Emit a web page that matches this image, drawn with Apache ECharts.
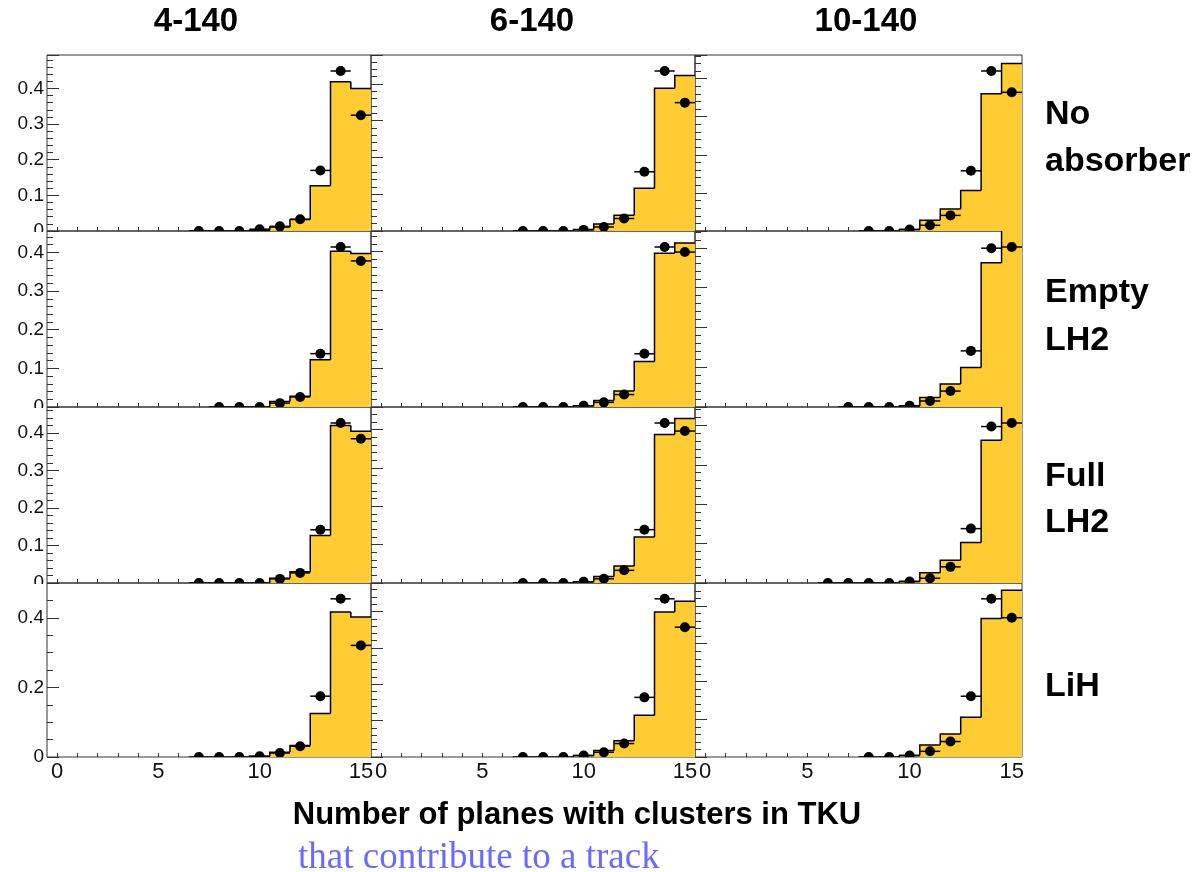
<!DOCTYPE html>
<html><head><meta charset="utf-8">
<script src="https://cdn.jsdelivr.net/npm/echarts@6/dist/echarts.min.js"></script>
<style>html,body{margin:0;padding:0;background:#fff}#c{width:1198px;height:872px}</style>
</head><body><div id="c"></div>
<script>
// ---------------- data ----------------
const bins = [0,1,2,3,4,5,6,7,8,9,10,11,12,13,14,15];
const columnTitles = ['4-140', '6-140', '10-140'];
const rowLabels = [['No', 'absorber'], ['Empty', 'LH2'], ['Full', 'LH2'], ['LiH']];
const xTickLabels = [0, 5, 10, 15];
const xTickMarks = bins;
const xTitle = 'Number of planes with clusters in TKU';
const xSubTitle = 'that contribute to a track';

// data points (null = no point), index = number of planes
const ptsNoAbs4  = [null,null,null,null,null,null,null,0,0,0,0.005,0.013,0.033,0.170,0.449,0.325];
const ptsNoAbs6  = [null,null,null,null,null,null,null,0,0,0,0.003,0.011,0.034,0.161,0.435,0.349];
const ptsNoAbs10 = [null,null,null,null,null,null,null,null,0,0,0.004,0.015,0.041,0.158,0.420,0.364];
const ptsEmpty4  = [null,null,null,null,null,null,null,null,0,0,0,0.010,0.026,0.138,0.414,0.378];
const ptsEmpty6  = [null,null,null,null,null,null,null,0,0,0,0.003,0.012,0.032,0.137,0.412,0.399];
const ptsEmpty10 = [null,null,null,null,null,null,null,0,0,0,0.003,0.015,0.040,0.141,0.399,0.402];
const ptsFull4   = [null,null,null,null,null,null,null,0,0,0,0,0.011,0.027,0.142,0.427,0.385];
const ptsFull6   = [null,null,null,null,null,null,null,0,0,0,0.003,0.011,0.033,0.139,0.417,0.396];
const ptsFull10  = [null,null,null,null,null,null,0,0,0,0,0.004,0.012,0.041,0.138,0.397,0.406];
const ptsLiH4    = [null,null,null,null,null,null,null,0,0,0,0.002,0.0115,0.031,0.175,0.455,0.321];
const ptsLiH6    = [null,null,null,null,null,null,null,0,0,0,0.004,0.013,0.037,0.164,0.435,0.357];
const ptsLiH10   = [null,null,null,null,null,null,null,null,0,0,0.004,0.015,0.041,0.161,0.419,0.369];

// simulation histograms, index = number of planes
const simNoAbs4  = [0,0,0,0,0,0,0,0,0,0,0.002,0.011,0.032,0.127,0.419,0.400];
const simNoAbs6  = [0,0,0,0,0,0,0,0,0,0,0.004,0.019,0.043,0.116,0.388,0.423];
const simNoAbs10 = [0,0,0,0,0,0,0,0,0,0,0.004,0.028,0.058,0.106,0.360,0.440];
const simEmpty4  = [0,0,0,0,0,0,0,0,0,0,0,0.014,0.028,0.122,0.403,0.397];
const simEmpty6  = [0,0,0,0,0,0,0,0,0,0,0.003,0.017,0.041,0.117,0.396,0.422];
const simEmpty10 = [0,0,0,0,0,0,0,0,0,0,0.0025,0.024,0.0575,0.099,0.3625,0.460];
const simFull4   = [0,0,0,0,0,0,0,0,0,0,0,0.013,0.030,0.127,0.420,0.405];
const simFull6   = [0,0,0,0,0,0,0,0,0,0,0.003,0.017,0.044,0.120,0.387,0.429];
const simFull10  = [0,0,0,0,0,0,0,0,0,0,0.004,0.026,0.058,0.103,0.362,0.460];
const simLiH4    = [0,0,0,0,0,0,0,0,0,0,0.002,0.014,0.033,0.125,0.417,0.403];
const simLiH6    = [0,0,0,0,0,0,0,0,0,0,0.004,0.018,0.045,0.115,0.399,0.428];
const simLiH10   = [0,0,0,0,0,0,0,0,0,0,0.004,0.032,0.061,0.105,0.367,0.442];

const points = [
  [ptsNoAbs4, ptsNoAbs6, ptsNoAbs10],
  [ptsEmpty4, ptsEmpty6, ptsEmpty10],
  [ptsFull4, ptsFull6, ptsFull10],
  [ptsLiH4, ptsLiH6, ptsLiH10]
];
const sims = [
  [simNoAbs4, simNoAbs6, simNoAbs10],
  [simEmpty4, simEmpty6, simEmpty10],
  [simFull4, simFull6, simFull10],
  [simLiH4, simLiH6, simLiH10]
];

// ---------------- layout / style ----------------
const colLeft = [47, 371, 695];
const colWidth = [324, 324, 327];
const rowTop = [55, 231, 407, 583];
const rowHeight = [176, 176, 176, 174];
const YELLOW = '#ffcc33';
const SANS = '"Liberation Sans", Arial, Helvetica, sans-serif';
const SERIF = '"Liberation Serif", "Times New Roman", serif';

function renderFill(params, api) {
  const x = api.value(0), v = api.value(1);
  if (!(v > 0)) return;
  const a = api.coord([x - 0.5, 0]), b = api.coord([x + 0.5, v]);
  // +1px so adjacent bins overlap (no seams)
  return {type: 'rect', shape: {x: a[0], y: b[1], width: b[0] - a[0] + 1, height: a[1] - b[1]}, style: {fill: YELLOW}};
}
function renderOutline(params, api) {
  const x = api.value(0), v = api.value(1), vp = api.value(2);
  if (!(v > 0) && !(vp > 0)) return;
  const p = api.coord([x - 0.5, vp]), a = api.coord([x - 0.5, v]), b = api.coord([x + 0.5, v]);
  return {type: 'polyline', shape: {points: [p, a, b]}, style: {stroke: '#000', lineWidth: 1.5, fill: null}};
}
function renderPoint(params, api) {
  const x = api.value(0), y = api.value(1);
  const l = api.coord([x - 0.5, y]), r = api.coord([x + 0.5, y]), c = api.coord([x, y]);
  return {type: 'group', children: [
    {type: 'line', shape: {x1: l[0], y1: l[1], x2: r[0], y2: r[1]}, style: {stroke: '#000', lineWidth: 1.5}},
    {type: 'circle', shape: {cx: c[0], cy: c[1], r: 5}, style: {fill: '#000'}}
  ]};
}

const grid = [], xAxis = [], yAxis = [], series = [];
for (let r = 0; r < 4; r++) {
  for (let c = 0; c < 3; c++) {
    const k = r * 3 + c;
    const pts = points[r][c], sim = sims[r][c];
    const maxP = Math.max(...pts.filter(v => v != null));
    const ymax = 1.1 * maxP;
    const wide = (r === 3 && c === 0);
    const major = wide ? 0.2 : 0.1;
    grid.push({left: colLeft[c], top: rowTop[r], width: colWidth[c], height: rowHeight[r],
      show: true, borderColor: '#333', borderWidth: 1, backgroundColor: 'transparent'});
    xAxis.push({type: 'value', gridIndex: k, min: -0.5, max: 15.5, position: 'bottom',
      axisLine: {show: false, onZero: false}, splitLine: {show: false},
      axisTick: {show: true, inside: true, length: 4, customValues: xTickMarks, lineStyle: {color: '#333', width: 1}},
      axisLabel: {show: r === 3, customValues: xTickLabels, fontSize: 22, margin: 4, color: '#111', fontFamily: SANS}
    });
    yAxis.push({type: 'value', gridIndex: k, position: 'left', min: 0, max: ymax, interval: major,
      axisLine: {show: false, onZero: false}, splitLine: {show: false}, minorSplitLine: {show: false},
      axisTick: {show: true, inside: true, length: 12, lineStyle: {color: '#333', width: 1}},
      minorTick: {show: true, splitNumber: wide ? 4 : 5, length: 6, lineStyle: {color: '#333', width: 1}},
      axisLabel: {show: c === 0, showMaxLabel: false, fontSize: 19, margin: 3, color: '#111', fontFamily: SANS,
        formatter: v => (Math.abs(v) < 1e-9 ? '0' : (+v).toFixed(1))}
    });
    const fillData = bins.map((b, i) => [b, sim[i]]);
    const lineData = bins.map((b, i) => [b, sim[i], i > 0 ? sim[i - 1] : 0]);
    const ptData = bins.map((b, i) => [b, pts[i]]).filter(d => d[1] != null);
    series.push({type: 'custom', xAxisIndex: k, yAxisIndex: k, clip: true, z: 2,
      renderItem: renderFill, data: fillData, encode: {x: 0, y: 1}, silent: true});
    series.push({type: 'custom', xAxisIndex: k, yAxisIndex: k, clip: true, z: 3,
      renderItem: renderOutline, data: lineData, encode: {x: 0, y: 1}, silent: true});
    series.push({type: 'custom', xAxisIndex: k, yAxisIndex: k, clip: true, z: 4,
      renderItem: renderPoint, data: ptData, encode: {x: 0, y: 1}, silent: true});
  }
}

function txt(x, y, text, font, fill, align) {
  return {type: 'text', x: x, y: y, z: 100,
    style: {text: text, font: font, fill: fill || '#000',
      textAlign: align || 'center', align: align || 'center',
      textVerticalAlign: 'middle', verticalAlign: 'middle'}};
}
const titleX = [196, 532, 866];
const graphic = [];
columnTitles.forEach((t, i) => graphic.push(txt(titleX[i], 22, t, 'bold 33px ' + SANS)));
const rowLabelY = [[115, 162], [293, 341], [477, 523], [687]];
rowLabels.forEach((lines, r) => lines.forEach((l, j) => graphic.push(txt(1045, rowLabelY[r][j], l, 'bold 34px ' + SANS, '#000', 'left'))));
graphic.push(txt(577, 815, xTitle, 'bold 31px ' + SANS));
graphic.push(txt(298, 858, xSubTitle, '37px ' + SERIF, '#6a6aff', 'left'));
// pads below hide the lower half of the "0" label of the pad above
[231, 407, 583].forEach(y => graphic.push({type: 'rect', z: 99, shape: {x: 0, y: y + 1, width: 45, height: 8}, style: {fill: '#fff'}}));

const chart = echarts.init(document.getElementById('c'), null, {renderer: 'canvas'});
chart.setOption({animation: false, backgroundColor: '#fff', grid, xAxis, yAxis, series, graphic});
</script>
</body></html>
